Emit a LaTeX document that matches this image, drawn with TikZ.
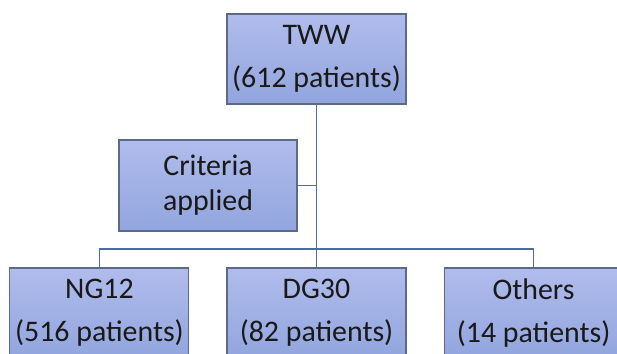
\documentclass[tikz,border=0pt]{standalone}
\usepackage{fontspec}
\setmainfont{Carlito}
\usepackage{tikz}
\usetikzlibrary{positioning}
\definecolor{boxtop}{HTML}{B0BCEC}
\definecolor{boxbottom}{HTML}{92A5DE}
\definecolor{boxline}{HTML}{5C6A88}
\definecolor{linkblue}{HTML}{4C6CA4}

\begin{document}
\begin{tikzpicture}[
    x=0.03cm, y=-0.03cm,
    node distance = 1.11cm,
    box/.style = {rectangle, draw=boxline, line width=0.9pt,
                  top color=boxtop, bottom color=boxbottom,
                  minimum width=5.37cm, minimum height=2.7cm,
                  align=center, text=black!90,
                  font=\fontsize{25.5}{37}\selectfont},
    link/.style = {draw=linkblue, line width=1.3pt}
  ]
  \clip (0,0) rectangle (617,353);
  \node[box] (tww) at (316.5,59) {TWW\\(612 patients)};
  \node[box, minimum width=5.34cm, minimum height=2.73cm,
        font=\fontsize{25.5}{30}\selectfont] (crit) at (208,185.5) {Criteria\\applied};
  \node[box] (dg) at (316.5,313) {DG30\\(82 patients)};
  \node[box, left=of dg]  (ng)  {NG12\\(516 patients)};
  \node[box, right=of dg] (oth) {Others\\(14 patients)};

  \coordinate (split) at (316.5,249);
  \draw[link] (tww.south) -- (dg.north);
  \draw[link] (crit.east) -- (crit.east -| tww.south);
  \draw[link] (ng.north) -- (ng.north |- split) -- (oth.north |- split) -- (oth.north);
\end{tikzpicture}
\end{document}
